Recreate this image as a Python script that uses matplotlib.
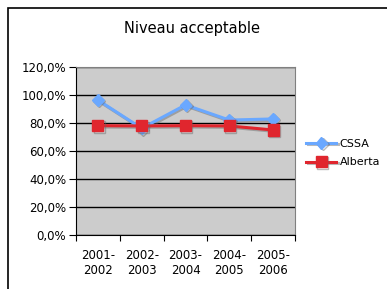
import matplotlib
matplotlib.use("Agg")
import matplotlib.pyplot as plt
import matplotlib.patheffects as pe
from matplotlib.patches import Rectangle

categories = ["2001-\n2002", "2002-\n2003", "2003-\n2004", "2004-\n2005", "2005-\n2006"]
cssa = [96.4, 76.2, 92.9, 82.1, 82.9]
alberta = [78.1, 77.9, 78.1, 77.9, 75.0]
y_ticks = [0, 20, 40, 60, 80, 100, 120]

fig = plt.figure(figsize=(3.87, 2.89), dpi=100)
fig.patches.append(Rectangle((8 / 387, -0.1), 1.2, 1 - 8 / 289 + 0.1, transform=fig.transFigure,
                             fill=False, edgecolor="black", linewidth=1.2))

ax = fig.add_axes([76 / 387, 1 - 235 / 289, (295 - 76) / 387, (235 - 67) / 289])
ax.set_facecolor("#CCCCCC")

x = list(range(len(categories)))
shadow = [pe.SimpleLineShadow(offset=(1, -1), shadow_color="#666666", alpha=0.45), pe.Normal()]
ax.plot(x, cssa, color="#6AA8FF", linewidth=2.2, marker="D", markersize=6,
        label="CSSA", path_effects=shadow)
ax.plot(x, alberta, color="#E0262E", linewidth=2.2, marker="s", markersize=8,
        label="Alberta", path_effects=shadow)

ax.set_xlim(-0.5, len(categories) - 0.5)
ax.set_ylim(0, 120)
ax.set_yticks(y_ticks)
ax.set_yticklabels([f"{v},0%" for v in y_ticks], fontsize=8.5)
ax.set_xticks([i - 0.5 for i in range(len(categories) + 1)])
ax.set_xticklabels([])
ax.set_xticks(x, minor=True)
ax.set_xticklabels(categories, minor=True, fontsize=8.5)
ax.tick_params(axis="x", which="minor", length=0, pad=10)
ax.tick_params(axis="x", which="major", length=4, direction="out")
ax.tick_params(axis="y", length=5, direction="out", pad=2)
ax.yaxis.grid(True, color="black", linewidth=1)
ax.set_axisbelow(True)
for side in ["top", "right"]:
    ax.spines[side].set_color("#808080")
ax.spines["left"].set_color("black")
ax.spines["bottom"].set_color("black")

fig.text(192 / 387, 1 - 28 / 289, "Niveau acceptable", ha="center", va="center", fontsize=10.5)

fig.legend(loc="center left", bbox_to_anchor=(302 / 387, 1 - 153 / 289), frameon=False,
           fontsize=8, handlelength=2.7, handletextpad=0.3, labelspacing=0.8,
           borderaxespad=0)

fig.savefig("out.png", dpi=100)
